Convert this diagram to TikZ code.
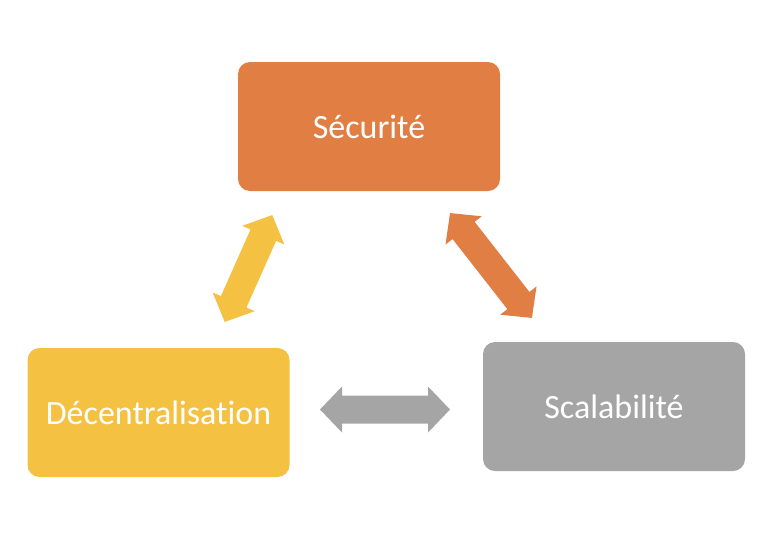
\documentclass[tikz,border=0pt]{standalone}
\usepackage{fontspec}
\setmainfont[Ligatures={NoCommon}]{Carlito}
\definecolor{orgc}{HTML}{E07E43}
\definecolor{ylwc}{HTML}{F4C143}
\definecolor{gryc}{HTML}{A5A5A5}
\newcommand\mydblarrow[5]{% name, color, center, angle, length
\begin{scope}[shift={#3}, rotate=#4]
\coordinate (#1-a) at ({-#5/2},0);
\coordinate (#1-b) at ({#5/2},0);
\fill[#2] (#1-a) -- ++(22,23) -- ++(0,-9) -- ({#5/2-22},14) -- ++(0,9) -- (#1-b) -- ++(-22,-23) -- ++(0,9) -- ({-#5/2+22},-14) -- ++(0,-9) -- cycle;
\end{scope}}
\begin{document}
\begin{tikzpicture}[x=1pt,y=-1pt,
  box/.style={draw=none, rounded corners=12pt, minimum width=262pt, minimum height=129pt, text=white, font=\fontsize{34}{40}\selectfont, inner sep=0pt}]
\useasboundingbox[fill=white] (0,0) rectangle (784,536);
\node[box, fill=orgc] (sec) at (369,126.5) {Sécurité};
\node[box, fill=ylwc] (dec) at (158.5,412.5) {Décentralisation};
\node[box, fill=gryc] (sca) at (614,406.5) {Scalabilité};
\mydblarrow{ya}{ylwc}{(248.5,268.5)}{66}{117}
\mydblarrow{oa}{orgc}{(491,265.5)}{-52}{133}
\mydblarrow{ga}{gryc}{(385,409.5)}{0}{130}
\end{tikzpicture}
\end{document}
